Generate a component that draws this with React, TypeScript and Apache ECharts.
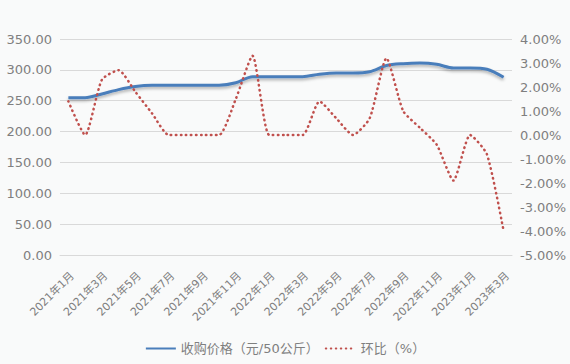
import React, { useEffect, useRef } from "react";
import * as echarts from "echarts";

const categories = [
  "2021年1月", "2021年2月", "2021年3月", "2021年4月", "2021年5月", "2021年6月",
  "2021年7月", "2021年8月", "2021年9月", "2021年10月", "2021年11月", "2021年12月",
  "2022年1月", "2022年2月", "2022年3月", "2022年4月", "2022年5月", "2022年6月",
  "2022年7月", "2022年8月", "2022年9月", "2022年10月", "2022年11月", "2022年12月",
  "2023年1月", "2023年2月", "2023年3月",
];

const priceValues = [
  255, 255, 261, 268, 273, 275, 275, 275, 275, 275, 279, 289,
  289, 289, 289, 293, 295, 295, 297, 307, 310, 311, 309, 303,
  303, 301, 288,
];

const momValues = [
  1.4, 0, 2.3, 2.7, 1.8, 0.9, 0, 0, 0, 0, 1.5, 3.3,
  0, 0, 0, 1.4, 0.7, 0, 0.7, 3.2, 1.0, 0.3, -0.4, -1.9,
  0, -0.8, -4.0,
];

const seriesNames = ["收购价格（元/50公斤）", "环比（%）"];

const FONT = "'DejaVu Sans', 'Noto Sans CJK SC', sans-serif";
const GRAY = "#7f7f7f";

export default function App() {
  const ref = useRef<HTMLDivElement>(null);
  useEffect(() => {
    document.body.style.margin = "0";
    const chart = echarts.init(ref.current!, null, { renderer: "svg" });
    chart.setOption({
      animation: false,
      backgroundColor: "#f9fafa",
      textStyle: { fontFamily: FONT },
      grid: { left: 60, right: 58, top: 39, bottom: 109, containLabel: false },
      legend: {
        left: "center",
        top: 342,
        itemWidth: 30,
        itemHeight: 14,
        itemGap: 6,
        itemStyle: { opacity: 0 },
        textStyle: { color: GRAY, fontSize: 13, fontFamily: FONT },
        padding: 0,
        data: seriesNames,
      },
      xAxis: {
        type: "category",
        data: categories,
        boundaryGap: true,
        axisLine: { lineStyle: { color: "#d9d9d9", width: 1 } },
        axisTick: { interval: 1, length: 5, lineStyle: { color: "#d9d9d9" } },
        axisLabel: {
          interval: 1,
          rotate: 45,
          margin: 15,
          align: "right",
          verticalAlign: "top",
          color: GRAY,
          fontSize: 11,
          fontFamily: FONT,
        },
      },
      yAxis: [
        {
          type: "value",
          min: 0,
          max: 350,
          interval: 50,
          axisLine: { show: false },
          axisTick: { show: false },
          splitLine: { lineStyle: { color: "#d9d9d9", width: 1 } },
          axisLabel: {
            color: GRAY,
            fontSize: 13,
            margin: 8,
            fontFamily: FONT,
            formatter: (v: number) => v.toFixed(2),
          },
        },
        {
          type: "value",
          min: -5,
          max: 4,
          interval: 1,
          position: "right",
          axisLine: { show: false },
          axisTick: { show: false },
          splitLine: { show: false },
          axisLabel: {
            color: GRAY,
            fontSize: 13,
            margin: 8,
            fontFamily: FONT,
            formatter: (v: number) => v.toFixed(2) + "%",
          },
        },
      ],
      series: [
        {
          name: seriesNames[0],
          type: "line",
          yAxisIndex: 0,
          data: priceValues,
          smooth: 0.3,
          symbol: "none",
          lineStyle: {
            color: "#4a7ebb",
            width: 3,
            shadowColor: "rgba(0,0,0,0.3)",
            shadowBlur: 3,
            shadowOffsetY: 2,
          },
          itemStyle: { color: "#4a7ebb" },
        },
        {
          name: seriesNames[1],
          type: "line",
          yAxisIndex: 1,
          data: momValues,
          smooth: 0.2,
          symbol: "none",
          lineStyle: {
            color: "#c0504d",
            width: 2.5,
            type: [0.5, 4.5],
            cap: "round",
          },
          itemStyle: { color: "#c0504d" },
        },
      ],
    });
    return () => chart.dispose();
  }, []);
  return (
    <div
      ref={ref}
      style={{ position: "absolute", left: 0, top: 0, width: 570, height: 364 }}
    />
  );
}
